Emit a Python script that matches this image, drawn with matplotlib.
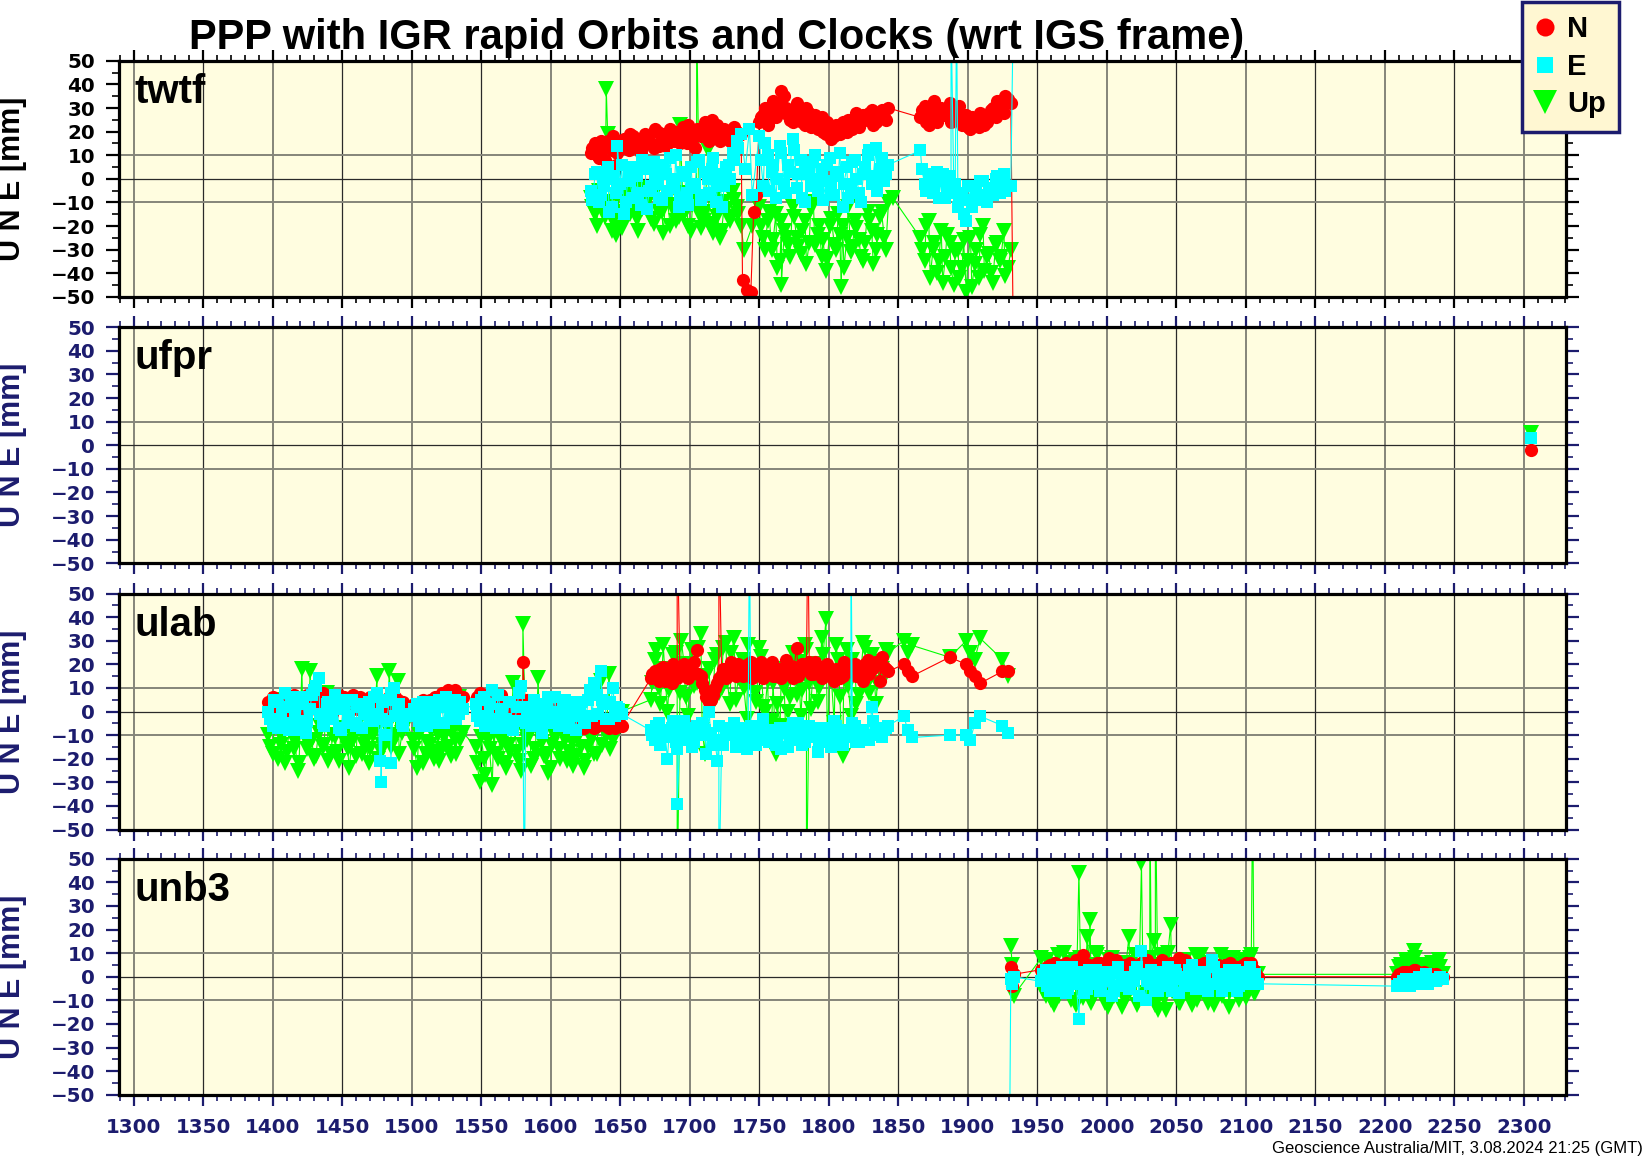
import numpy as np
import matplotlib
matplotlib.use('Agg')
import matplotlib.pyplot as plt
from matplotlib.lines import Line2D
from matplotlib.ticker import MultipleLocator
from matplotlib.font_manager import FontProperties

NAVY = '#1c1c6e'
BG = '#fffde0'
C_N, C_E, C_U = '#ff0000', '#00ffff', '#00ff00'

TITLE = "PPP with IGR rapid Orbits and Clocks (wrt IGS frame)"
FOOTER = "Geoscience Australia/MIT, 3.08.2024 21:25 (GMT)"
STATIONS = ['twtf', 'ufpr', 'ulab', 'unb3']
YLABEL = "U N E [mm]"
LEGEND_LABELS = ['N', 'E', 'Up']

# ---------------- twtf ----------------
tw_days = [1629, 1632, 1635, 1638, 1641, 1644, 1647, 1650, 1653, 1656, 1659, 1662, 1665, 1668, 1671, 1674, 1677,
           1680, 1683, 1686, 1689, 1692, 1695, 1698, 1701, 1704, 1707, 1710, 1713, 1716, 1719, 1722, 1725, 1728,
           1731, 1734, 1737,
           1750, 1753, 1756, 1759, 1762, 1765, 1768, 1771, 1774, 1777, 1780, 1783, 1786, 1789, 1792, 1795, 1798,
           1801, 1804, 1807, 1810, 1813, 1816, 1819, 1822, 1825, 1828, 1831, 1834, 1837, 1840, 1843,
           1866, 1869, 1872, 1875, 1878, 1881, 1884, 1887, 1890, 1893, 1896, 1899, 1902, 1905, 1908, 1911, 1914,
           1917, 1920, 1923, 1926, 1929]
tw_N = [11, 15, 9, 13, 16, 12, 6, 14, 17, 12, 18, 15, 11, 19, 16, 13, 20, 17, 14, 21, 16, 18, 22, 15, 19, 13, 20,
        22, 17, 25, 19, 16, 21, 18, 17, 20, 19,
        24, 27, 23, 29, 26, 31, 35, 27, 24, 32, 26, 23, 28, 25, 21, 26, 19, 22, 18, 21, 24, 20, 23, 26, 22, 27, 25,
        29, 24, 28, 26, 30,
        26, 31, 23, 28, 24, 30, 27, 32, 25, 29, 23, 27, 21, 25, 22, 27, 24, 29, 26, 31, 28, 34]
tw_E = [-5, 2, -10, -3, 5, -12, -6, -2, -15, 3, -8, 1, -11, 4, -5, 7, -2, -9, 2, 9, -4, -12, 3, -6, 5, -2, 8, -7,
        0, 4, -10, 2, -3, 6, 11, 16, 19,
        18, -3, 10, 3, -8, 14, -2, 6, 17, -4, 8, -10, 2, 7, -5, 4, -1, 9, -7, 1, -12, 5, -3, 8, -6, 2, 10, -2, 13,
        4, -1, 6,
        12, -2, 2, -6, 3, -1, -8, 1, -4, -12, -6, -18, -9, -3, -7, -1, -10, -4, 0, -6, 2, -3]
tw_U = [-8, -15, -5, -12, 19, -22, -24, -14, -6, -14, -9, -17, -4, -12, -8, -19, -10, -14, -6, -20, -11, -16, -8,
        -13, -22, -9, -15, -18, 12, -20, -12, -25, -10, -16, -5, -12, -20,
        -12, -25, -18, -30, -15, -35, -22, -28, -12, -25, -32, -18, -27, -10, -24, -33, -39, -20, -28, -15, -20,
        -25, -31, -18, -26, -35, -14, -22, -30, -16, -25, -10,
        -25, -35, -18, -30, -40, -22, -33, -27, -45, -30, -38, -48, -25, -36, -42, -20, -33, -40, -28, -35, -22,
        -38]
tw_days2 = [1630, 1633, 1636, 1639, 1642, 1645, 1648, 1651, 1654, 1657, 1660, 1663, 1666, 1669, 1672, 1675, 1678,
            1681, 1684, 1687, 1690, 1693, 1696, 1699, 1702, 1705, 1708, 1711, 1714, 1717, 1720, 1723, 1726, 1729,
            1732, 1735,
            1751, 1754, 1757, 1760, 1763, 1766, 1769, 1772, 1775, 1778, 1781, 1784, 1787, 1790, 1793, 1796, 1799,
            1802, 1805, 1808, 1811, 1814, 1817, 1820, 1823, 1826, 1829, 1832, 1835, 1838, 1841,
            1867, 1870, 1873, 1876, 1879, 1882, 1885, 1888, 1891, 1894, 1897, 1900, 1903, 1906, 1909, 1912, 1915,
            1918, 1921, 1924, 1927]
tw_N2 = [13, 10, 16, 8, 14, 18, 11, 16, 13, 19, 14, 17, 13, 18, 15, 21, 14, 19, 16, 18, 20, 15, 19, 23, 17, 21,
         18, 24, 16, 20, 23, 18, 20, 16, 22, 18,
         26, 30, 25, 33, 28, 37, 30, 25, 29, 27, 24, 30, 22, 27, 23, 20, 24, 17, 23, 19, 22, 25, 21, 28, 24, 26,
         28, 23, 27, 29, 25,
         29, 24, 27, 33, 26, 28, 30, 24, 27, 31, 25, 22, 26, 24, 28, 23, 26, 30, 33, 29, 35]
tw_E2 = [-9, 3, -7, 0, -14, 1, -4, 6, -10, -1, 5, -6, 8, -13, -3, 2, -8, 6, -5, 0, 10, -8, 1, -11, -4, 7, -9, 3,
         -6, 9, -3, -12, 5, 0, 8, 13,
         8, 15, -5, 6, 0, 11, -6, 3, 12, 2, -8, 5, -3, 10, 0, -9, 6, -4, 3, 11, -2, -8, 7, 0, -10, 5, 12, 1, -5, 9,
         2,
         4, -5, 0, -3, -8, 2, -4, -6, -2, -9, -15, -3, -12, -6, -1, -9, -4, -7, 1, -3, -5]
tw_U2 = [-12, -20, -7, -16, -10, -18, -8, -21, -11, -15, -7, -22, -13, -9, -17, -6, -14, -23, -9, -12, -18, -6,
         -15, -20, -11, -8, -21, -14, -19, -9, -16, -22, -13, -18, -9, -15,
         -20, -30, -14, -26, -38, -18, -25, -33, -16, -29, -22, -36, -13, -28, -20, -26, -34, -17, -30, -24, -38,
         -12, -29, -21, -33, -27, -18, -36, -24, -14, -30,
         -30, -20, -42, -27, -35, -44, -24, -38, -31, -42, -26, -35, -46, -30, -24, -39, -32, -44, -27, -33, -41]
tw_N_xd = [1738, 1741, 1744, 1746, 1748, 1931, 1933]
tw_N_xv = [-43, -47, -48, -14, -7, 32, -80]
tw_E_xd = [1648, 1740, 1743, 1745, 1888, 1892, 1931, 1933]
tw_E_xv = [14, 4, 21, -7, 70, 70, -3, 80]
tw_U_xd = [1640, 1693, 1705, 1717, 1739, 1745, 1748, 1766, 1809, 1846, 1931]
tw_U_xv = [38, 23, 70, -23, -30, -20, -8, -45, -46, -8, -30]

# ---------------- ufpr ----------------
uf_days = [2305]
uf_N = [-2]
uf_E = [3]
uf_U = [5]

# ---------------- ulab ----------------
ul_days = [1397, 1400, 1403, 1406, 1409, 1412, 1415, 1418, 1421, 1424, 1427, 1430, 1433, 1436, 1439, 1442, 1445,
           1448, 1451, 1454, 1457, 1460, 1463, 1466, 1469, 1472, 1475, 1478, 1481, 1484, 1487, 1490, 1493, 1496,
           1501, 1504, 1507, 1510, 1513, 1516, 1519, 1522, 1525, 1528, 1531, 1534, 1537,
           1546, 1549, 1552, 1555, 1558, 1561, 1564, 1567, 1570, 1573, 1576, 1579, 1582, 1585, 1588, 1591, 1594,
           1597, 1600, 1603, 1606, 1609, 1612, 1615, 1618, 1621, 1624, 1627, 1630, 1633, 1636, 1639, 1642, 1645,
           1648, 1651,
           1672, 1675, 1678, 1681, 1684, 1687, 1690, 1693, 1696, 1699, 1702, 1705, 1708, 1711, 1714, 1717, 1720,
           1723, 1726, 1729, 1732, 1735, 1738, 1741, 1744, 1747, 1750, 1753, 1756, 1759, 1762, 1765, 1768, 1771,
           1774, 1777, 1780, 1783, 1786, 1789, 1792, 1795, 1798, 1801, 1804, 1807, 1810, 1813, 1816, 1819, 1822,
           1825, 1828, 1831, 1834, 1837, 1840, 1843,
           1854, 1857, 1860, 1887, 1899, 1902, 1905, 1909, 1925, 1929]
ul_N = [4, 6, 2, 5, -1, 3, 7, 1, 4, -3, 2, 6, 3, 8, 5, 1, 4, 7, 6, 3, 5, 2, 6, 4, 1, 5, 3, -2, 4, 6, 3, 5, 2, 1,
        2, -1, 4, 1, 5, 3, 6, 8, 4, 7, 9, 5, 6,
        5, 8, 3, 6, 2, 4, 7, 1, 3, -2, 2, 4, 0, 3, 1, -1, 2, -3, 0, 1, -4, -2, -5, -3, -6, -4, -7, -5, -3, -6, -4,
        -5, -7, -6, -5, -6,
        14, 17, 13, 19, 15, 12, 18, 16, 20, 14, 17, 26, 15, 9, 4, 7, 12, 16, 14, 19, 17, 20, 15, 18, 21, 16, 19,
        14, 17, 21, 15, 18, 16, 20, 14, 27, 17, 19, 21, 16, 18, 14, 19, 17, 13, 18, 15, 19, 17, 20, 16, 13, 22,
        18, 21, 13, 19, 17,
        20, 17, 15, 23, 20, 17, 15, 12, 17, 17]
ul_E = [0, -6, 4, -3, 8, -8, 2, -4, 6, -9, 1, 9, 14, -5, 3, -2, 7, -7, 1, -3, 5, -6, 2, -1, 4, -4, 8, -3, -10, 5,
        10, 2, -5, -1,
        -2, 3, -6, 1, -4, 4, -5, 2, 6, -3, 5, -1, 1,
        3, -4, 6, -2, 9, -7, 1, -3, 4, -8, 2, 11, -5, 0, 5, -2, -9, 3, -1, 6, -6, 2, -3, 4, -8, 1, -4, 5, -2, 7,
        17, 3, -3, 10, 2, -1,
        -8, -12, -5, -10, -20, -7, -13, -9, -4, -11, -15, -6, -10, -8, 0, -14, -21, -12, -7, -10, -5, -13, -9,
        -16, -6, -11, -8, -3, -12, -10, -14, -7, -9, -15, -5, -11, -8, -13, -6, -10, -17, -7, -12, -9, -4, -11,
        -14, -8, -10, -6, -13, -9, -12, 2, -7, -10, -8, -6,
        -2, -8, -11, -10, -10, -12, -5, -2, -6, -9]
ul_U = [-10, -18, 5, -14, -22, -8, -16, -25, 18, -12, 17, -20, -9, -15, 8, -18, -11, -21, -7, -16, -13, -19, -8,
        -14, -22, -10, 15, -17, -5, 17, -12, 13, -9, -4,
        -12, -24, -8, -18, -14, -20, -10, -16, -6, -19, -12, 6, -9,
        -15, -30, -20, -12, -31, -18, -9, -22, -14, 12, -17, -25, -10, -8, -20, 14, -13, -18, -24, -11, -16, -7,
        -21, -13, -19, -9, -24, -15, -11, -18, 13, -8, 16, -12, -6, 0,
        5, 22, 10, 28, 0, 15, 25, 8, 20, -2, 26, 12, 33, -18, 18, 6, 24, 10, 29, 3, 31, 14, 22, -3, 19, 8, 27, 2,
        13, -4, -18, -6, 10, 0, 25, 7, -2, 28, 12, 20, 4, 31, 39, 15, -5, 22, -19, 26, -2, 18, 7, 29, 12, 24, 3,
        20, 14, 25,
        30, 25, 28, 23, 30, 25, 22, 31, 22, 15]
ul_days2 = [1398, 1401, 1404, 1407, 1410, 1413, 1416, 1419, 1422, 1425, 1428, 1431, 1434, 1437, 1440, 1443, 1446,
            1449, 1452, 1455, 1458, 1461, 1464, 1467, 1470, 1473, 1476, 1479, 1482, 1485, 1488, 1491, 1494,
            1502, 1505, 1508, 1511, 1514, 1517, 1520, 1523, 1526, 1529, 1532, 1535,
            1547, 1550, 1553, 1556, 1559, 1562, 1565, 1568, 1571, 1574, 1577, 1580, 1583, 1586, 1589, 1592, 1595,
            1598, 1601, 1604, 1607, 1610, 1613, 1616, 1619, 1622, 1625, 1628, 1631, 1634, 1637, 1640, 1643, 1646,
            1649,
            1673, 1676, 1679, 1682, 1685, 1688, 1691, 1694, 1697, 1700, 1703, 1706, 1709, 1712, 1715, 1718, 1721,
            1724, 1727, 1730, 1733, 1736, 1739, 1742, 1745, 1748, 1751, 1754, 1757, 1760, 1763, 1766, 1769, 1772,
            1775, 1778, 1781, 1784, 1787, 1790, 1793, 1796, 1799, 1802, 1805, 1808, 1811, 1814, 1817, 1820, 1823,
            1826, 1829, 1832, 1835, 1838, 1841]
ul_N2 = [2, 5, 3, -2, 4, 6, 0, 5, 2, 7, 4, 1, 6, 3, 5, -1, 3, 6, 2, 4, 7, 1, 5, 3, 6, 2, 4, 5, 1, 3, 6, 2, 4,
         3, 0, 5, 2, 4, 6, 3, 7, 9, 6, 8, 4,
         6, 4, 7, 2, 5, 3, 0, 4, 1, 3, -1, 2, 5, 1, 0, 2, -2, 1, -3, -1, -4, -6, -2, -5, -3, -6, -4, -2, -7, -5, -3,
         -6, -4, -7, -5,
         16, 14, 18, 13, 17, 20, 14, 19, 15, 18, 21, 16, 12, 6, 5, 10, 14, 18, 16, 21, 15, 18, 17, 20, 14, 17, 21,
         16, 19, 15, 18, 14, 22, 17, 19, 15, 20, 18, 16, 21, 17, 15, 20, 16, 18, 14, 21, 17, 19, 15, 18, 20, 16,
         19, 21, 23, 18]
ul_E2 = [-3, 5, -7, 2, -5, 6, -2, -8, 3, -4, 7, 11, -1, -6, 4, -3, 2, -8, 5, -2, -5, 3, -7, 1, -3, 6, -1, 4, -4,
         8, -2, 3, -6,
         1, -4, 4, -6, 2, -2, 5, -5, 3, 0, -3, 4,
         -2, 5, -6, 3, -3, 7, -1, -7, 4, -4, 8, 2, -2, -6, 3, -4, 1, 6, -5, 0, -3, 5, -7, 2, -2, 4, -5, 9, 12, -1,
         5, -3, 4, -2, 1,
         -10, -6, -14, -8, -11, -4, -16, -9, -12, -7, -13, -10, -5, -18, -9, -12, -6, -14, -10, -8, -15, -11, -7,
         -12, -9, -14, -6, -10, -13, -8, -11, -16, -7, -10, -12, -5, -14, -9, -11, -7, -13, -10, -8, -15, -6, -12,
         -9, -11, -5, -13, -8, -10, -12, -4, -9, -11, -7]
ul_U2 = [-15, -7, -20, -11, -17, -5, -13, -22, -9, -16, -12, -19, -6, -14, -21, -10, -17, -8, -13, -24, -11, -6,
         -18, -12, -16, -9, -20, -14, -7, -15, -10, -18, -8,
         -16, -10, -22, -13, -8, -17, -21, -11, -15, -9, -18, -12,
         -22, -11, -27, -16, -9, -20, -13, -24, -17, -8, -21, -14, -12, -23, -16, -10, -19, -26, -14, -9, -20,
         -12, -17, -23, -10, -15, -21, -11, -18, -7, -14, -10, -16, -8, -5,
         12, 26, 3, 18, 9, 24, 14, 30, 6, 20, 11, 27, -8, 15, 2, 22, 8, 27, 13, 25, 5, 19, 10, 28, 15, 4, 23, 0,
         -5, 12, 3, 18, -8, 6, 14, 21, 9, 26, 1, 17, 10, 24, -10, 13, 28, 6, 19, 11, 22, 3, 16, 27, 8, 21, 12, 18,
         26]
ul_N_xd = [1580, 1691, 1721, 1785]
ul_N_xv = [21, 80, 80, 80]
ul_E_xd = [1477, 1478, 1485, 1581, 1691, 1721, 1743, 1816]
ul_E_xv = [-21, -30, -22, -80, -39, -80, 80, 80]
ul_U_xd = [1580, 1691, 1784]
ul_U_xv = [37, -80, -80]

# ---------------- unb3 ----------------
un_days = [1931, 1932, 1933,
           1953, 1956, 1959, 1962, 1965, 1968, 1971, 1974, 1977, 1980, 1983, 1986, 1989, 1992, 1995, 1998, 2001,
           2004, 2007, 2010, 2013, 2016, 2019, 2022, 2025, 2028, 2031, 2034, 2037, 2040, 2043, 2046, 2049, 2052,
           2055, 2058, 2061, 2064, 2067, 2070, 2073, 2076, 2079, 2082, 2085, 2088, 2091, 2094, 2097, 2100, 2103,
           2106, 2109,
           2209, 2212, 2215, 2218, 2221, 2224, 2227, 2230, 2233, 2236, 2239, 2242]
un_N = [4, -4, 1,
        3, 1, 5, 2, 4, 0, 6, 3, 2, 5, 9, 1, 4, 3, 6, 2, 0, 4, 7, 3, 5, 1, 4, 2, 6, 3, 1, 5, 4, 7, 2, 6, 3, 8, 4,
        2, 5, 1, 3, 6, 2, 4, 1, 3, 5, 2, 0, 4, 3, 6, 5, 3, 0,
        0, 1, 2, 1, 3, 2, 1, 0, 1, 0, -1, 0]
un_E = [-1, -3, 0,
        -2, 3, -6, 1, -4, 4, -7, 0, -3, -18, 2, -5, -1, 3, -6, -2, 1, -8, 2, -4, 0, -5, -2, 4, 11, -10, -3, 1,
        -6, 2, -4, -1, 3, -7, 0, -2, 5, -5, -1, 2, -6, 7, -3, 0, -4, 3, -2, -6, 1, -3, 4, -1, -3,
        -4, -3, -1, -4, -2, -1, -3, 1, -1, -2, -1, -1]
un_U = [13, 5, -8,
        8, -8, 5, -12, 9, -5, 2, -10, 7, 44, -9, 17, -11, 10, -6, 3, -13, 8, -7, 6, -10, 17, 4, -12, 48, -8, 7,
        15, -14, 9, -14, 22, -6, -11, 7, -4, -12, 9, -7, 5, -11, 3, -8, 9, -5, -13, 8, -6, 2, -9, 8, -7, 1,
        1, 5, 7, 4, 11, 4, 1, 5, 2, 4, 7, 1]
un_days2 = [1954, 1957, 1960, 1963, 1966, 1969, 1972, 1975, 1978, 1981, 1984, 1987, 1990, 1993, 1996, 1999, 2002,
            2005, 2008, 2011, 2014, 2017, 2020, 2023, 2026, 2029, 2032, 2035, 2038, 2041, 2044, 2047, 2050, 2053,
            2056, 2059, 2062, 2065, 2068, 2071, 2074, 2077, 2080, 2083, 2086, 2089, 2092, 2095, 2098, 2101, 2104,
            2107,
            2210, 2213, 2216, 2219, 2222, 2225, 2228, 2231, 2234, 2237, 2240]
un_N2 = [2, 4, 1, 6, 3, 5, 2, 4, 7, 3, 1, 5, 2, 6, 4, 3, 8, 2, 5, 1, 4, 6, 3, 2, 5, 7, 1, 4, 3, 6, 2, 5, 4, 1, 7,
         3, 2, 5, 4, 6, 1, 3, 5, 2, 4, 6, 3, 1, 5, 4, 6, 2,
         1, 2, 0, 2, 3, 1, 2, 1, 0, 1, 0]
un_E2 = [1, -4, 3, -6, -1, 2, -5, 4, -2, 0, -7, 3, -3, 1, -5, 2, -1, -6, 4, -3, 0, -4, 2, -8, 1, -2, 3, -5, 0, -3,
         4, -6, 1, -1, -4, 3, -2, 0, -5, 2, -3, 4, -1, -6, 1, -2, 3, -4, 0, 2, -3, 1,
         -3, -2, -4, -1, -3, 0, -2, -3, -1, -2, 0]
un_U2 = [-6, 7, -10, 4, -8, 10, -4, 6, -12, 8, -7, 5, -9, 9, -5, -11, 7, -8, 4, -13, 6, -6, 9, -10, 3, -7, 8, -12,
         5, -9, 10, -6, 2, -11, 7, -8, 4, -10, 9, -5, 6, -12, 3, -8, 8, -6, 5, -10, 7, -4, 9, -7,
         4, 2, 6, 3, 8, 2, 5, 3, 6, 2, 4]
un_N_xd = []
un_N_xv = []
un_E_xd = [1930]
un_E_xv = [-80]
un_U_xd = [1988, 2031, 2035, 2105]
un_U_xv = [24, 80, 80, 80]

PANEL_DATA = [
    dict(N=[(tw_days, tw_N), (tw_days2, tw_N2), (tw_N_xd, tw_N_xv)],
         E=[(tw_days, tw_E), (tw_days2, tw_E2), (tw_E_xd, tw_E_xv)],
         U=[(tw_days, tw_U), (tw_days2, tw_U2), (tw_U_xd, tw_U_xv)]),
    dict(N=[(uf_days, uf_N)], E=[(uf_days, uf_E)], U=[(uf_days, uf_U)]),
    dict(N=[(ul_days, ul_N), (ul_days2, ul_N2), (ul_N_xd, ul_N_xv)],
         E=[(ul_days, ul_E), (ul_days2, ul_E2), (ul_E_xd, ul_E_xv)],
         U=[(ul_days, ul_U), (ul_days2, ul_U2), (ul_U_xd, ul_U_xv)]),
    dict(N=[(un_days, un_N), (un_days2, un_N2), (un_N_xd, un_N_xv)],
         E=[(un_days, un_E), (un_days2, un_E2), (un_E_xd, un_E_xv)],
         U=[(un_days, un_U), (un_days2, un_U2), (un_U_xd, un_U_xv)]),
]

XLIM = (1289.1, 2330.4)
YLIM = (-50, 50)


def merged(parts):
    d = np.concatenate([np.asarray(p[0], float) for p in parts])
    v = np.concatenate([np.asarray(p[1], float) for p in parts])
    o = np.argsort(d, kind='stable')
    return d[o], v[o]


W, H = 1644, 1158
fig = plt.figure(figsize=(W / 100, H / 100), dpi=100)
fig.patch.set_facecolor('white')

left = 118.5 / W
width = (1566 - 118.5) / W
tops_px = [60.8, 327.3, 593.5, 858.7]
ph = 236.0

tick_font = FontProperties(family='DejaVu Sans', weight='bold', size=14.3)
for i, top in enumerate(tops_px):
    ax = fig.add_axes([left, 1 - (top + ph) / H, width, ph / H])
    tcol = 'black' if i == 0 else NAVY
    ax.set_facecolor(BG)
    ax.set_xlim(*XLIM)
    ax.set_ylim(*YLIM)
    ax.xaxis.set_major_locator(MultipleLocator(50))
    ax.xaxis.set_minor_locator(MultipleLocator(10))
    ax.yaxis.set_major_locator(MultipleLocator(10))
    ax.yaxis.set_minor_locator(MultipleLocator(5))
    ax.tick_params(axis='both', which='both', direction='out', colors=tcol)
    ax.tick_params(axis='x', which='major', length=8, width=1.6, top=True, bottom=True)
    ax.tick_params(axis='x', which='minor', length=4, width=1.2, top=True, bottom=True)
    ax.tick_params(axis='y', which='major', length=9.4, width=1.6, left=True, right=True, pad=7.5)
    ax.tick_params(axis='y', which='minor', length=4.7, width=1.2, left=True, right=True)
    ax.tick_params(axis='x', labelbottom=(i == 3), pad=8.5)
    for lab in ax.get_yticklabels() + ax.get_xticklabels():
        lab.set_fontproperties(tick_font)
        lab.set_color(tcol)
    for sp in ax.spines.values():
        sp.set_linewidth(2.3)
        sp.set_color('black')
        sp.set_zorder(5)
    for t in ax.get_xticks():
        if XLIM[0] < t < XLIM[1]:
            if int(round(t)) % 100 == 0:
                ax.axvline(t, color='#85857a', lw=1.4, zorder=0.5)
            else:
                ax.axvline(t, color='#2a2a2a', lw=0.9, zorder=0.5)
    for yv in (-10, 10):
        ax.axhline(yv, color='#85857a', lw=1.4, zorder=0.5)
    ax.axhline(0, color='#2a2a2a', lw=0.9, zorder=0.5)

    pdata = PANEL_DATA[i]
    du, vu = merged(pdata['U'])
    dn, vn = merged(pdata['N'])
    de, ve = merged(pdata['E'])
    ax.plot(du, vu, color=C_U, lw=0.8, marker='v', ms=12, mew=0, zorder=2)
    ax.plot(dn, vn, color=C_N, lw=0.8, marker='o', ms=9.5, mew=0, zorder=2.1)
    ax.plot(de, ve, color=C_E, lw=0.8, marker='s', ms=9, mew=0, zorder=2.2)

    ax.text(15.5 / (1566 - 118.5), 1 - 42 / ph, STATIONS[i], transform=ax.transAxes,
            fontfamily='Liberation Sans', fontweight='bold', fontsize=29, color='black',
            ha='left', va='baseline', zorder=6)

    fig.text(12 / W, 1 - (top + ph / 2) / H, YLABEL, rotation=90, ha='center', va='center',
             fontfamily='Liberation Sans', fontweight='bold', fontsize=22, color=tcol)

fig.text(717 / W, 1 - 49 / H, TITLE, ha='center', va='baseline',
         fontfamily='Liberation Sans', fontweight='bold', fontsize=30, color='black')
fig.text(1643 / W, 1 - 1153 / H, FOOTER, ha='right', va='baseline',
         fontfamily='Liberation Sans', fontsize=12, color='black')

handles = [Line2D([], [], ls='none', marker='o', color=C_N, ms=13, mew=0),
           Line2D([], [], ls='none', marker='s', color=C_E, ms=11, mew=0),
           Line2D([], [], ls='none', marker='v', color=C_U, ms=17, mew=0)]
leg = fig.legend(handles, LEGEND_LABELS, loc='upper left', bbox_to_anchor=(1522 / W, 1 - 2 / H),
                 bbox_transform=fig.transFigure, frameon=True, fancybox=False, framealpha=1,
                 facecolor='#fff7d2', edgecolor=NAVY, borderpad=0.45, labelspacing=0.33,
                 handlelength=0.65, handletextpad=0.45, borderaxespad=0,
                 prop=FontProperties(family='Liberation Sans', weight='bold', size=21))
leg.get_frame().set_linewidth(2.5)

fig.savefig('out.png', dpi=100, facecolor='white')
